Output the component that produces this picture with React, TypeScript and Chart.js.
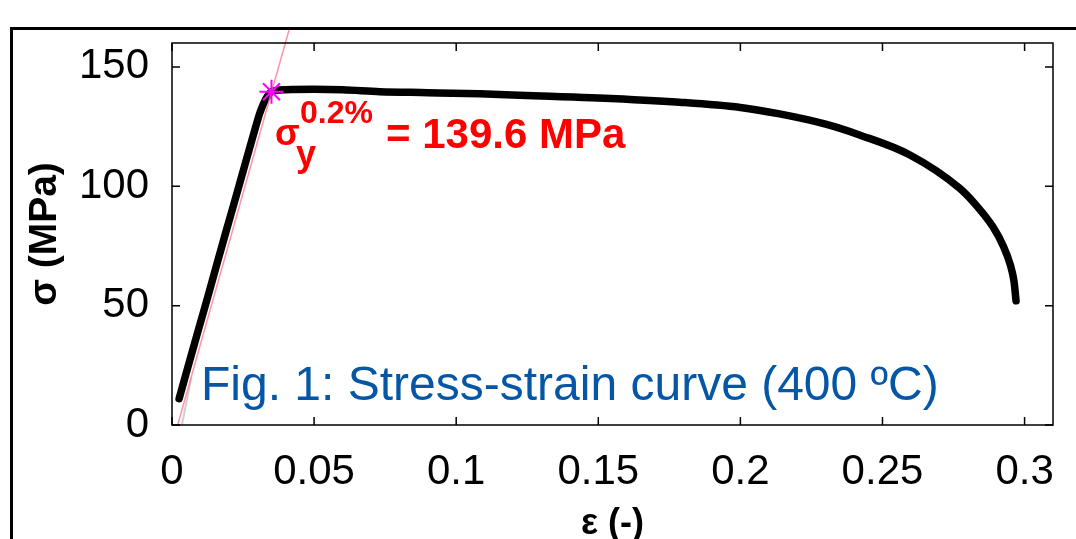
import React, { useEffect, useRef } from "react";
import { Chart, registerables } from "chart.js";

Chart.register(...registerables);

// ---- data ----
const strainValues = [
  0.0025, 0.006, 0.0098, 0.013, 0.0157, 0.019, 0.0225, 0.0263, 0.029, 0.031,
  0.033, 0.035, 0.04, 0.05, 0.06, 0.0731, 0.09, 0.1083, 0.13, 0.15, 0.1786,
  0.2, 0.2138, 0.23, 0.2419, 0.2595, 0.2771, 0.283, 0.2888, 0.2925, 0.295,
  0.2963, 0.297,
];
const stressValues = [
  11, 26, 42, 55.4, 67, 81, 95.6, 111.7, 123, 131, 136.5, 139.6, 140.4, 140.6,
  140.4, 139.6, 139.2, 138.7, 137.8, 137, 135.2, 133, 130.3, 126, 121.5, 113.2,
  99.2, 92, 83.1, 75, 67, 60, 52,
];
const rawStrain = [0.0035, 0.0068];
const rawStress = [0, 20];
const offsetStrain = [0.002, 0.0413];
const offsetStress = [0, 166];
const yieldStrain = [0.035];
const yieldStress = [139.6];
const xTickValues = [0, 0.05, 0.1, 0.15, 0.2, 0.25, 0.3];
const yTickValues = [0, 50, 100, 150];
const xLabel = "ε (-)";
const yLabel = "σ (MPa)";
const yieldText = "= 139.6 MPa";
const figText = "Fig. 1: Stress-strain curve (400 ºC)";

const FONT = "'Liberation Sans', Arial, Helvetica, sans-serif";

const pts = (xs: number[], ys: number[]) => xs.map((x, i) => ({ x, y: ys[i] }));

const decorPlugin = {
  id: "decor",
  afterDraw(chart: any) {
    const { ctx, chartArea, scales } = chart;
    const { left, right, top, bottom } = chartArea;
    const xs = scales.x;
    const ys = scales.y;
    ctx.save();
    // axes box
    ctx.strokeStyle = "#000";
    ctx.lineWidth = 1.5;
    ctx.strokeRect(left, top, right - left, bottom - top);
    // inward ticks on all four sides
    const L = 8;
    ctx.beginPath();
    xTickValues.forEach((v) => {
      const px = xs.getPixelForValue(v);
      ctx.moveTo(px, bottom);
      ctx.lineTo(px, bottom - L);
      ctx.moveTo(px, top);
      ctx.lineTo(px, top + L);
    });
    yTickValues.forEach((v) => {
      const py = ys.getPixelForValue(v);
      ctx.moveTo(left, py);
      ctx.lineTo(left + L, py);
      ctx.moveTo(right, py);
      ctx.lineTo(right - L, py);
    });
    ctx.stroke();

    // yield annotation
    const yx = xs.getPixelForValue(yieldStrain[0]);
    const yy = ys.getPixelForValue(yieldStress[0]);
    ctx.fillStyle = "#ff0000";
    ctx.textBaseline = "alphabetic";
    ctx.textAlign = "left";
    ctx.font = `bold 36px ${FONT}`;
    ctx.fillText("σ", yx + 3.5, yy + 53);
    ctx.fillText("y", yx + 24.5, yy + 74);
    ctx.font = `bold 32px ${FONT}`;
    ctx.fillText("0.2%", yx + 28.5, yy + 31);
    ctx.font = `bold 42px ${FONT}`;
    ctx.fillText(yieldText, yx + 114.5, yy + 56);

    // figure caption
    ctx.fillStyle = "#0556a5";
    ctx.font = `48px ${FONT}`;
    ctx.fillText(figText, left + 29, bottom - 25);
    ctx.restore();
  },
};

export default function App() {
  const ref = useRef<HTMLCanvasElement>(null);
  useEffect(() => {
    const canvas = ref.current!;
    const chart = new Chart(canvas, {
      type: "scatter",
      data: {
        datasets: [
          {
            label: "raw",
            data: pts(rawStrain, rawStress),
            showLine: true,
            borderColor: "#cfcfcf",
            borderWidth: 2,
            pointRadius: 0,
            order: 3,
          },
          {
            label: "curve",
            data: pts(strainValues, stressValues),
            showLine: true,
            borderColor: "#000",
            borderWidth: 7.5,
            pointRadius: 0,
            cubicInterpolationMode: "monotone",
            borderJoinStyle: "round",
            borderCapStyle: "round",
            order: 2,
          },
          {
            label: "offset",
            data: pts(offsetStrain, offsetStress),
            showLine: true,
            borderColor: "rgba(255,120,150,0.8)",
            borderWidth: 1.5,
            pointRadius: 0,
            clip: false,
            order: 1,
          },
          {
            label: "yield",
            data: pts(yieldStrain, yieldStress),
            showLine: false,
            pointStyle: "star",
            pointRadius: 12,
            pointBorderWidth: 2,
            borderColor: "#ff00ff",
            backgroundColor: "#ff00ff",
            order: 0,
          },
        ] as any,
      },
      options: {
        responsive: false,
        animation: false,
        devicePixelRatio: 1,
        layout: { padding: { top: 43, right: 23, left: 0, bottom: 0 } },
        plugins: { legend: { display: false }, tooltip: { enabled: false } },
        scales: {
          x: {
            type: "linear",
            min: 0,
            max: 0.31,
            afterBuildTicks: (s: any) => {
              s.ticks = xTickValues.map((v) => ({ value: v }));
            },
            afterFit: (s: any) => {
              s.height = 135;
            },
            grid: { display: false },
            border: { display: false },
            ticks: {
              font: { family: FONT, size: 42 },
              color: "#000",
              padding: 14,
              autoSkip: false,
              maxRotation: 0,
              callback: (v: any) => String(v),
            },
            title: {
              display: true,
              text: xLabel,
              font: { family: FONT, size: 36, weight: "bold" },
              color: "#000",
              padding: { top: 0, bottom: 14 },
            },
          },
          y: {
            type: "linear",
            min: 0,
            max: 160,
            afterBuildTicks: (s: any) => {
              s.ticks = yTickValues.map((v) => ({ value: v }));
            },
            afterFit: (s: any) => {
              s.width = 172;
            },
            grid: { display: false },
            border: { display: false },
            ticks: {
              font: { family: FONT, size: 42 },
              color: "#000",
              padding: 15,
              autoSkip: false,
              callback: (v: any) => String(v),
            },
            title: {
              display: true,
              text: yLabel,
              font: { family: FONT, size: 39, weight: "bold" },
              color: "#000",
              padding: { top: 21.6, bottom: 0 },
            },
          },
        },
      } as any,
      plugins: [decorPlugin],
    });
    return () => chart.destroy();
  }, []);

  return (
    <div
      style={{
        position: "fixed",
        left: 0,
        top: 0,
        width: 1076,
        height: 539,
        overflow: "hidden",
        background: "#fff",
      }}
    >
      <canvas
        ref={ref}
        width={1076}
        height={560}
        style={{ position: "absolute", left: 0, top: 0, width: 1076, height: 560 }}
      />
      <div
        style={{
          position: "absolute",
          left: 10,
          top: 27,
          width: 3000,
          height: 3000,
          border: "3px solid #000",
          pointerEvents: "none",
        }}
      />
    </div>
  );
}
